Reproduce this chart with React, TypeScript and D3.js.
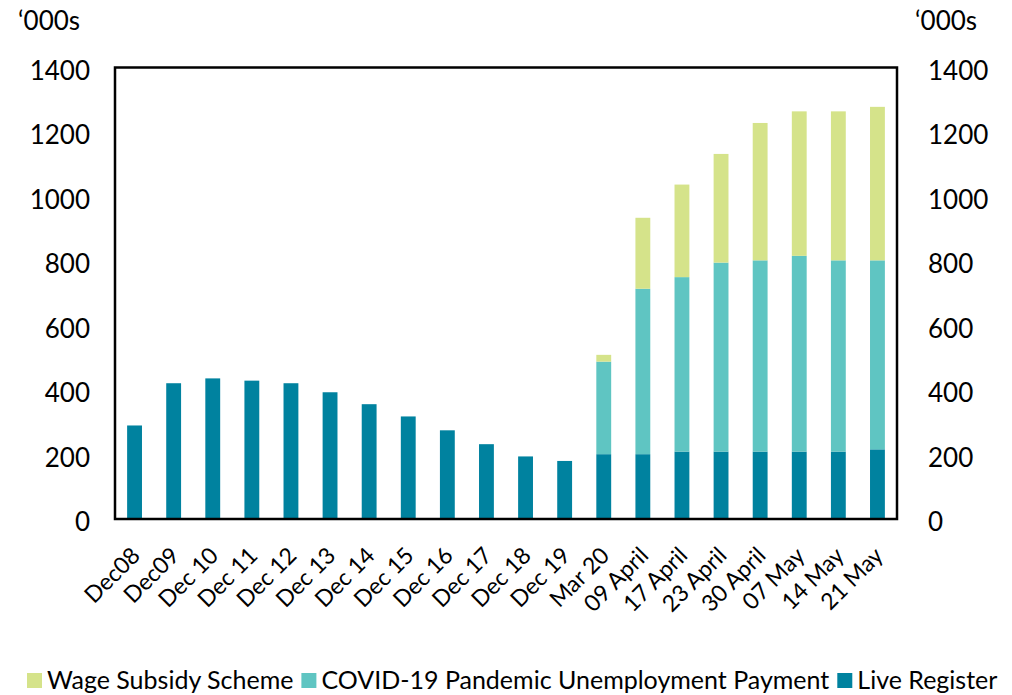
import React, { useEffect, useRef } from 'react';
import * as d3 from 'd3';

const categories = [
  'Dec08', 'Dec09', 'Dec 10', 'Dec 11', 'Dec 12', 'Dec 13', 'Dec 14', 'Dec 15', 'Dec 16',
  'Dec 17', 'Dec 18', 'Dec 19', 'Mar 20', '09 April', '17 April', '23 April', '30 April',
  '07 May', '14 May', '21 May',
];
// '000s
const liveRegister = [290, 421, 436, 429, 421, 393, 356, 318, 275, 232, 194, 180, 201, 201, 209, 209, 209, 209, 209, 216];
const pandemicPayment = [0, 0, 0, 0, 0, 0, 0, 0, 0, 0, 0, 0, 287, 513, 541, 586, 593, 607, 593, 586];
const wageSubsidy = [0, 0, 0, 0, 0, 0, 0, 0, 0, 0, 0, 0, 21, 220, 287, 337, 426, 448, 462, 476];
const yTicks = [0, 200, 400, 600, 800, 1000, 1200, 1400];

const seriesNames = ['Wage Subsidy Scheme', 'COVID-19 Pandemic Unemployment Payment', 'Live Register'];
const seriesColors = ['#d5e38a', '#5fc5c2', '#00829f'];

const App = () => {
  const ref = useRef<HTMLDivElement>(null);

  useEffect(() => {
    d3.select(ref.current).selectAll('*').remove();

    const W = 1012;
    const H = 695;
    const left = 115;
    const right = 897;
    const top = 67.5;
    const bottom = 519;
    const font = 'Lato, "Open Sans", sans-serif';

    const svg = d3
      .select(ref.current)
      .append('svg')
      .attr('width', W)
      .attr('height', H)
      .style('display', 'block')
      .style('font-family', font);

    const x = d3.scaleBand().domain(categories).range([left, right]).paddingInner(0.62).paddingOuter(0.31);
    const y = d3.scaleLinear().domain([0, 1400]).range([bottom, top]);

    // stacked bars, live register at the bottom
    const rows = categories.map((c, i) => ({
      cat: c,
      lr: liveRegister[i],
      pup: pandemicPayment[i],
      wss: wageSubsidy[i],
    }));
    const stack = d3.stack<any>().keys(['lr', 'pup', 'wss'])(rows);
    const colorFor = { lr: seriesColors[2], pup: seriesColors[1], wss: seriesColors[0] };

    svg
      .append('g')
      .selectAll('g')
      .data(stack)
      .enter()
      .append('g')
      .attr('fill', (s) => colorFor[s.key])
      .selectAll('rect')
      .data((s) => s.filter((d) => d[1] - d[0] > 0))
      .enter()
      .append('rect')
      .attr('x', (d) => x(d.data.cat))
      .attr('width', x.bandwidth())
      .attr('y', (d) => y(d[1]))
      .attr('height', (d) => y(d[0]) - y(d[1]));

    // frame
    svg
      .append('rect')
      .attr('x', left)
      .attr('y', top)
      .attr('width', right - left)
      .attr('height', bottom - top)
      .attr('fill', 'none')
      .attr('stroke', '#000')
      .attr('stroke-width', 2.5);

    // value axes on both sides
    const leftAxis = svg
      .append('g')
      .attr('transform', `translate(${left},0)`)
      .call(d3.axisLeft(y).tickValues(yTicks).tickFormat(d3.format('d')).tickSize(0).tickPadding(25));
    const rightAxis = svg
      .append('g')
      .attr('transform', `translate(${right},0)`)
      .call(d3.axisRight(y).tickValues(yTicks).tickFormat(d3.format('d')).tickSize(0).tickPadding(31));
    [leftAxis, rightAxis].forEach((g) => {
      g.select('.domain').remove();
      g.selectAll('text')
        .attr('dy', '0.45em')
        .style('font-size', '26px')
        .style('font-family', font)
        .attr('fill', '#000');
    });

    svg
      .append('text')
      .attr('x', 18)
      .attr('y', 30)
      .style('font-size', '26px')
      .text('\u2018000s');
    svg
      .append('text')
      .attr('x', 915)
      .attr('y', 30)
      .style('font-size', '26px')
      .text('\u2018000s');

    // category labels
    svg
      .append('g')
      .selectAll('text')
      .data(categories)
      .enter()
      .append('text')
      .attr('transform', (d) => `translate(${x(d) + x.bandwidth() / 2 + 7},557) rotate(-45)`)
      .attr('text-anchor', 'end')
      .style('font-size', '23px')
      .text((d) => d);

    // legend
    const legend = svg.append('g');
    let cx = 27;
    seriesNames.forEach((name, i) => {
      legend
        .append('rect')
        .attr('x', cx)
        .attr('y', 673)
        .attr('width', 15)
        .attr('height', 15)
        .attr('fill', seriesColors[i]);
      const t = legend
        .append('text')
        .attr('x', cx + 20)
        .attr('y', 689)
        .style('font-size', '25px')
        .text(name);
      const w = (t.node() as SVGTextElement).getComputedTextLength();
      cx += 20 + w + 8;
    });
  }, []);

  return <div style={{ position: 'absolute', left: 0, top: 0 }} ref={ref}></div>;
};

export default App;
